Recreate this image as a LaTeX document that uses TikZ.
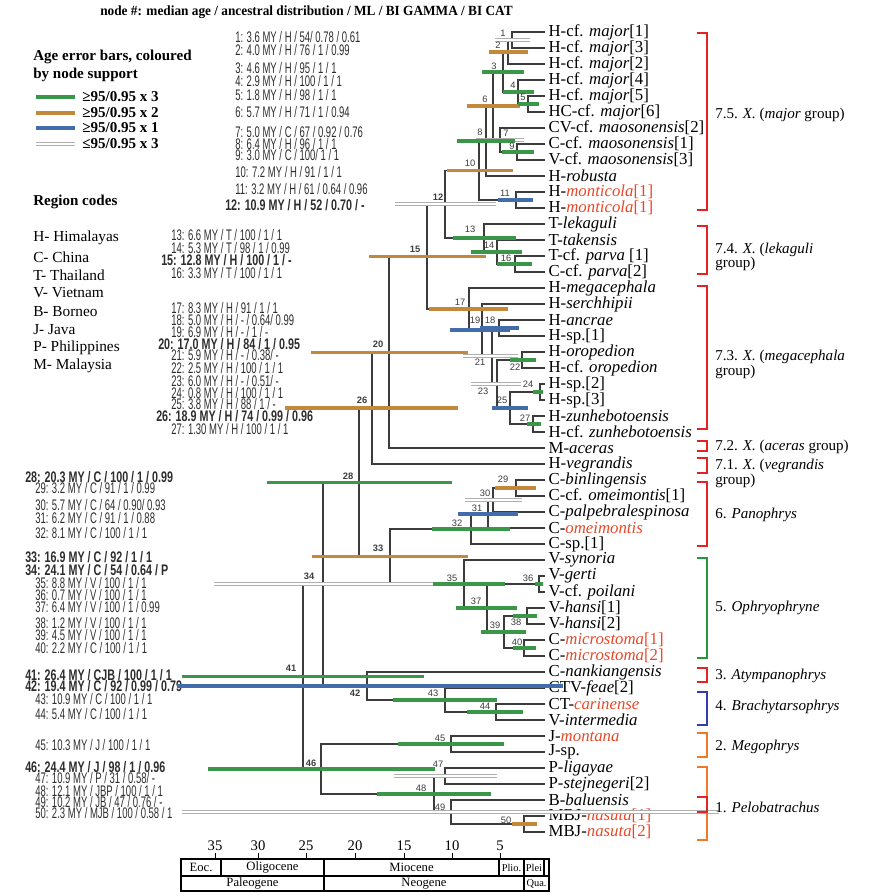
\documentclass[tikz,border=0pt]{standalone}
\usepackage{fontspec}
\setmainfont{Liberation Serif}
\newfontfamily\statfont[FakeStretch=0.62]{Liberation Sans}
\newfontfamily\statbfont[FakeStretch=0.70]{Liberation Sans}
\newfontfamily\hdrfont[FakeStretch=0.95]{Liberation Serif}
\newfontfamily\lblfont{Liberation Sans}
\definecolor{gbar}{RGB}{58,150,72}
\definecolor{obar}{RGB}{196,136,58}
\definecolor{bbar}{RGB}{66,108,170}
\definecolor{wbar}{RGB}{175,175,175}
\definecolor{redtx}{RGB}{232,72,40}
\definecolor{bred}{RGB}{228,36,36}
\definecolor{bgreen}{RGB}{40,150,60}
\definecolor{bblue}{RGB}{50,60,175}
\definecolor{borange}{RGB}{240,120,40}
\definecolor{treec}{RGB}{60,60,60}
\definecolor{stattx}{RGB}{45,45,45}
\begin{document}
\begin{tikzpicture}[x=0.75pt,y=-0.75pt,
 branch/.style={draw=treec, line width=0.9pt},
 gb/.style={draw=gbar, line width=2.6pt},
 ob/.style={draw=obar, line width=2.6pt},
 bb/.style={draw=bbar, line width=2.6pt},
 wb/.style={draw=wbar, line width=0.6pt, double=white, double distance=1.6pt},
 tiplbl/.style={anchor=west, inner sep=0pt, font=\fontsize{12.6}{14}\selectfont},
 stat/.style={anchor=west, inner sep=0pt, text=stattx, font=\statfont\fontsize{11.5}{12}\selectfont},
 statb/.style={stat, font=\statbfont\bfseries\fontsize{11.5}{12}\selectfont},
 nlbl/.style={inner sep=0pt, text=treec, font=\lblfont\fontsize{7}{8}\selectfont},
 nlblb/.style={nlbl, font=\lblfont\bfseries\fontsize{7}{8}\selectfont},
 brk/.style={line width=2pt},
 grplbl/.style={anchor=west, inner sep=0pt, font=\fontsize{11.3}{13}\selectfont},
 legtxt/.style={anchor=west, inner sep=0pt, font=\bfseries\fontsize{11.3}{13}\selectfont},
 regtxt/.style={anchor=west, inner sep=0pt, font=\fontsize{11.5}{13}\selectfont},
 axnum/.style={inner sep=0pt, font=\fontsize{11}{12}\selectfont},
 eratxt/.style={inner sep=0pt, font=\fontsize{9.5}{11}\selectfont},
 erasm/.style={inner sep=0pt, font=\fontsize{7.8}{9}\selectfont}
]
\useasboundingbox (0,0) rectangle (870,896);

% ---------- header ----------
\node[anchor=west, inner sep=0pt, font=\hdrfont\bfseries\fontsize{10.5}{12}\selectfont] (hdr) at (100,12)
 {node \#: median age / ancestral distribution / ML / BI GAMMA / BI CAT};

% ---------- legend ----------
\node[legtxt] (lg1) at (33,57) {Age error bars, coloured};
\node[legtxt] (lg2) at (33,75) {by node support};
\draw[gb] (36,97) -- (75,97);
\draw[ob] (36,113) -- (75,113);
\draw[bb] (36,128) -- (75,128);
\draw[wb] (36,144) -- (75,144);
\node[legtxt] (lga) at (82,97) {≥95/0.95 x 3};
\node[legtxt] (lgb) at (82,113) {≥95/0.95 x 2};
\node[legtxt] (lgc) at (82,128) {≥95/0.95 x 1};
\node[legtxt] (lgd) at (82,144) {≤95/0.95 x 3};

\node[legtxt] (rc) at (33,202) {Region codes};
\node[regtxt] (r1) at (33,238) {H- Himalayas};
\node[regtxt] (r2) at (33,257) {C- China};
\node[regtxt] (r3) at (33,275) {T- Thailand};
\node[regtxt] (r4) at (33,293) {V- Vietnam};
\node[regtxt] (r5) at (33,312) {B- Borneo};
\node[regtxt] (r6) at (33,330) {J- Java};
\node[regtxt] (r7) at (33,348) {P- Philippines};
\node[regtxt] (r8) at (33,366) {M- Malaysia};

% ---------- node statistics ----------
\node[stat] (s1) at (235,37) {1: 3.6 MY / H / 54/ 0.78 / 0.61};
\node[stat] (s2) at (235,50) {2: 4.0 MY / H / 76 / 1 / 0.99};
\node[stat] (s3) at (235,68) {3: 4.6 MY / H / 95 / 1 / 1};
\node[stat] (s4) at (235,81) {4: 2.9 MY / H / 100 / 1 / 1};
\node[stat] (s5) at (235,95) {5: 1.8 MY / H / 98 / 1 / 1};
\node[stat] (s6) at (235,112) {6: 5.7 MY / H / 71 / 1 / 0.94};
\node[stat] (s7) at (235,132) {7: 5.0 MY / C / 67 / 0.92 / 0.76};
\node[stat] (s8) at (235,144) {8: 6.4 MY / H / 96 / 1 / 1};
\node[stat] (s9) at (235,155) {9: 3.0 MY / C / 100/ 1 / 1};
\node[stat] (s10) at (235,172) {10: 7.2 MY / H / 91 / 1 / 1};
\node[stat] (s11) at (235,189) {11: 3.2 MY / H / 61 / 0.64 / 0.96};
\node[statb] (s12) at (225,205) {12: 10.9 MY / H / 52 / 0.70 / -};
\node[stat] (s13) at (171,235) {13: 6.6 MY / T / 100 / 1 / 1};
\node[stat] (s14) at (171,248) {14: 5.3 MY / T / 98 / 1 / 0.99};
\node[statb] (s15) at (161,260) {15: 12.8 MY / H / 100 / 1 / -};
\node[stat] (s16) at (171,273) {16: 3.3 MY / T / 100 / 1 / 1};
\node[stat] (s17) at (171,308) {17: 8.3 MY / H / 91 / 1 / 1};
\node[stat] (s18) at (171,320) {18: 5.0 MY / H / - / 0.64/ 0.99};
\node[stat] (s19) at (171,332) {19: 6.9 MY / H / - / 1 / -};
\node[statb] (s20) at (158,344) {20: 17.0 MY / H / 84 / 1 / 0.95};
\node[stat] (s21) at (171,355) {21: 5.9 MY / H / - / 0.38/ -};
\node[stat] (s22) at (171,368) {22: 2.5 MY / H / 100 / 1 / 1};
\node[stat] (s23) at (171,381) {23: 6.0 MY / H / - / 0.51/ -};
\node[stat] (s24) at (171,393) {24: 0.8 MY / H / 100 / 1 / 1};
\node[stat] (s25) at (171,404) {25: 3.8 MY / H / 88 / 1 / -};
\node[statb] (s26) at (156,416) {26: 18.9 MY / H / 74 / 0.99 / 0.96};
\node[stat] (s27) at (171,429) {27: 1.30 MY / H / 100 / 1 / 1};
\node[statb] (s28) at (25,477) {28: 20.3 MY / C / 100 / 1 / 0.99};
\node[stat] (s29) at (35,488) {29: 3.2 MY / C / 91 / 1 / 0.99};
\node[stat] (s30) at (35,505) {30: 5.7 MY / C / 64 / 0.90/ 0.93};
\node[stat] (s31) at (35,518) {31: 6.2 MY / C / 91 / 1 / 0.88};
\node[stat] (s32) at (35,533) {32: 8.1 MY / C / 100 / 1 / 1};
\node[statb] (s33) at (25,557) {33: 16.9 MY / C / 92 / 1 / 1};
\node[statb] (s34) at (25,570) {34: 24.1 MY / C / 54 / 0.64 / P};
\node[stat] (s35) at (35,583) {35: 8.8 MY / V / 100 / 1 / 1};
\node[stat] (s36) at (35,595) {36: 0.7 MY / V / 100 / 1 / 1};
\node[stat] (s37) at (35,607) {37: 6.4 MY / V / 100 / 1 / 0.99};
\node[stat] (s38) at (35,623) {38: 1.2 MY / V / 100 / 1 / 1};
\node[stat] (s39) at (35,635) {39: 4.5 MY / V / 100 / 1 / 1};
\node[stat] (s40) at (35,648) {40: 2.2 MY / C / 100 / 1 / 1};
\node[statb] (s41) at (25,675) {41: 26.4 MY / CJB / 100 / 1 / 1};
\node[statb] (s42) at (25,686) {42: 19.4 MY / C / 92 / 0.99 / 0.79};
\node[stat] (s43) at (35,699) {43: 10.9 MY / C / 100 / 1 / 1};
\node[stat] (s44) at (35,714) {44: 5.4 MY / C / 100 / 1 / 1};
\node[stat] (s45) at (35,745) {45: 10.3 MY / J / 100 / 1 / 1};
\node[statb] (s46) at (25,767) {46: 24.4 MY / J / 98 / 1 / 0.96};
\node[stat] (s47) at (35,778) {47: 10.9 MY / P / 31 / 0.58/ -};
\node[stat] (s48) at (35,791) {48: 12.1 MY / JBP / 100 / 1 / 1};
\node[stat] (s49) at (35,802) {49: 10.2 MY / JB / 47 / 0.76 / -};
\node[stat] (s50) at (35,813) {50: 2.3 MY / MJB / 100 / 0.58 / 1};

% ---------- tree coordinates ----------
\foreach \i in {1,...,51} { \coordinate (t\i) at (545,{32+16*(\i-1)}); }
\coordinate (n1) at (512,40);   \coordinate (n2) at (508,52);
\coordinate (n3) at (503,72);   \coordinate (n4) at (518,92);
\coordinate (n5) at (528,104);  \coordinate (n6) at (493,106);
\coordinate (n7) at (500,140);  \coordinate (n8) at (486,141);
\coordinate (n9) at (517,152);  \coordinate (n10) at (479,170.5);
\coordinate (n11) at (516,200); \coordinate (n12) at (445,204.25);
\coordinate (n13) at (484,238); \coordinate (n14) at (497,252);
\coordinate (n15) at (427,256.5); \coordinate (n16) at (515,264);
\coordinate (n17) at (469,309); \coordinate (n18) at (499,328);
\coordinate (n19) at (482,330); \coordinate (n20) at (389,352.25);
\coordinate (n21) at (492,356); \coordinate (n22) at (522,360);
\coordinate (n23) at (497,384); \coordinate (n24) at (540,392);
\coordinate (n25) at (510,408); \coordinate (n26) at (372,408);
\coordinate (n27) at (533,424); \coordinate (n28) at (359,482.25);
\coordinate (n29) at (516,488); \coordinate (n30) at (493,500);
\coordinate (n31) at (488,514); \coordinate (n32) at (471,529);
\coordinate (n33) at (390,556.5); \coordinate (n34) at (323,584);
\coordinate (n35) at (464,584); \coordinate (n36) at (539,584);
\coordinate (n37) at (487,608); \coordinate (n38) at (527,616);
\coordinate (n39) at (504,632); \coordinate (n40) at (524,648);
\coordinate (n41) at (303,676.5); \coordinate (n42) at (367,686);
\coordinate (n43) at (445,700); \coordinate (n44) at (496,712);
\coordinate (n45) at (451,744); \coordinate (n46) at (321,769);
\coordinate (n47) at (445,776); \coordinate (n48) at (434,794);
\coordinate (n49) at (451,812); \coordinate (n50) at (524,824);

% ---------- branches ----------
\foreach \p/\a/\b in {n1/t1/t2, n2/n1/t3, n3/n2/n4, n4/t4/n5, n5/t5/t6, n6/n3/n7,
  n7/t7/n9, n8/n6/t10, n9/t8/t9, n10/n8/n11, n11/t11/t12, n12/n10/n13, n13/t13/n14,
  n14/t14/n16, n15/n12/n17, n16/t15/t16, n17/t17/n19, n18/t19/t20, n19/t18/n21,
  n20/n15/t27, n21/n18/n23, n22/t21/t22, n23/n22/n25, n24/t23/t24, n25/n24/n27,
  n26/n20/t28, n27/t25/t26, n28/n26/n33, n29/t29/t30, n30/n29/t31, n31/n30/t32,
  n32/n31/t33, n33/n32/n35, n34/n28/n42, n35/t34/n37, n36/t35/t36, n37/n36/n39,
  n38/t37/t38, n39/n38/n40, n40/t39/t40, n41/n34/n46, n42/t41/n43, n43/t42/n44,
  n44/t43/t44, n45/t45/t46, n46/n45/n48, n47/t47/t48, n48/n47/n49, n49/t49/n50,
  n50/t50/t51}
  { \draw[branch] (\a) -- (\a -| \p) -- (\b -| \p) -- (\b); }

% ---------- tip labels ----------
\node[tiplbl] (L1) at ([xshift=2.5pt]t1) {H-cf. \textit{major}[1]};
\node[tiplbl] (L2) at ([xshift=2.5pt]t2) {H-cf. \textit{major}[3]};
\node[tiplbl] (L3) at ([xshift=2.5pt]t3) {H-cf. \textit{major}[2]};
\node[tiplbl] (L4) at ([xshift=2.5pt]t4) {H-cf. \textit{major}[4]};
\node[tiplbl] (L5) at ([xshift=2.5pt]t5) {H-cf. \textit{major}[5]};
\node[tiplbl] (L6) at ([xshift=2.5pt]t6) {HC-cf. \textit{major}[6]};
\node[tiplbl] (L7) at ([xshift=2.5pt]t7) {CV-cf. \textit{maosonensis}[2]};
\node[tiplbl] (L8) at ([xshift=2.5pt]t8) {C-cf. \textit{maosonensis}[1]};
\node[tiplbl] (L9) at ([xshift=2.5pt]t9) {V-cf. \textit{maosonensis}[3]};
\node[tiplbl] (L10) at ([xshift=2.5pt]t10) {H-\textit{robusta}};
\node[tiplbl] (L11) at ([xshift=2.5pt]t11) {H-\textcolor{redtx}{\textit{monticola}[1]}};
\node[tiplbl] (L12) at ([xshift=2.5pt]t12) {H-\textcolor{redtx}{\textit{monticola}[1]}};
\node[tiplbl] (L13) at ([xshift=2.5pt]t13) {T-\textit{lekaguli}};
\node[tiplbl] (L14) at ([xshift=2.5pt]t14) {T-\textit{takensis}};
\node[tiplbl] (L15) at ([xshift=2.5pt]t15) {T-cf. \textit{parva} [1]};
\node[tiplbl] (L16) at ([xshift=2.5pt]t16) {C-cf. \textit{parva}[2]};
\node[tiplbl] (L17) at ([xshift=2.5pt]t17) {H-\textit{megacephala}};
\node[tiplbl] (L18) at ([xshift=2.5pt]t18) {H-\textit{serchhipii}};
\node[tiplbl] (L19) at ([xshift=2.5pt]t19) {H-\textit{ancrae}};
\node[tiplbl] (L20) at ([xshift=2.5pt]t20) {H-sp.[1]};
\node[tiplbl] (L21) at ([xshift=2.5pt]t21) {H-\textit{oropedion}};
\node[tiplbl] (L22) at ([xshift=2.5pt]t22) {H-cf. \textit{oropedion}};
\node[tiplbl] (L23) at ([xshift=2.5pt]t23) {H-sp.[2]};
\node[tiplbl] (L24) at ([xshift=2.5pt]t24) {H-sp.[3]};
\node[tiplbl] (L25) at ([xshift=2.5pt]t25) {H-\textit{zunhebotoensis}};
\node[tiplbl] (L26) at ([xshift=2.5pt]t26) {H-cf. \textit{zunhebotoensis}};
\node[tiplbl] (L27) at ([xshift=2.5pt]t27) {M-\textit{aceras}};
\node[tiplbl] (L28) at ([xshift=2.5pt]t28) {H-\textit{vegrandis}};
\node[tiplbl] (L29) at ([xshift=2.5pt]t29) {C-\textit{binlingensis}};
\node[tiplbl] (L30) at ([xshift=2.5pt]t30) {C-cf. \textit{omeimontis}[1]};
\node[tiplbl] (L31) at ([xshift=2.5pt]t31) {C-\textit{palpebralespinosa}};
\node[tiplbl] (L32) at ([xshift=2.5pt]t32) {C-\textcolor{redtx}{\textit{omeimontis}}};
\node[tiplbl] (L33) at ([xshift=2.5pt]t33) {C-sp.[1]};
\node[tiplbl] (L34) at ([xshift=2.5pt]t34) {V-\textit{synoria}};
\node[tiplbl] (L35) at ([xshift=2.5pt]t35) {V-\textit{gerti}};
\node[tiplbl] (L36) at ([xshift=2.5pt]t36) {V-cf. \textit{poilani}};
\node[tiplbl] (L37) at ([xshift=2.5pt]t37) {V-\textit{hansi}[1]};
\node[tiplbl] (L38) at ([xshift=2.5pt]t38) {V-\textit{hansi}[2]};
\node[tiplbl] (L39) at ([xshift=2.5pt]t39) {C-\textcolor{redtx}{\textit{microstoma}[1]}};
\node[tiplbl] (L40) at ([xshift=2.5pt]t40) {C-\textcolor{redtx}{\textit{microstoma}[2]}};
\node[tiplbl] (L41) at ([xshift=2.5pt]t41) {C-\textit{nankiangensis}};
\node[tiplbl] (L42) at ([xshift=2.5pt]t42) {CTV-\textit{feae}[2]};
\node[tiplbl] (L43) at ([xshift=2.5pt]t43) {CT-\textcolor{redtx}{\textit{carinense}}};
\node[tiplbl] (L44) at ([xshift=2.5pt]t44) {V-\textit{intermedia}};
\node[tiplbl] (L45) at ([xshift=2.5pt]t45) {J-\textcolor{redtx}{\textit{montana}}};
\node[tiplbl] (L46) at ([xshift=2.5pt]t46) {J-sp.};
\node[tiplbl] (L47) at ([xshift=2.5pt]t47) {P-\textit{ligayae}};
\node[tiplbl] (L48) at ([xshift=2.5pt]t48) {P-\textit{stejnegeri}[2]};
\node[tiplbl] (L49) at ([xshift=2.5pt]t49) {B-\textit{baluensis}};
\node[tiplbl] (L50) at ([xshift=2.5pt]t50) {MBJ-\textcolor{redtx}{\textit{nasuta}[1]}};
\node[tiplbl] (L51) at ([xshift=2.5pt]t51) {MBJ-\textcolor{redtx}{\textit{nasuta}[2]}};

% ---------- age error bars ----------
\foreach \n/\xa/\xb in {n1/495/530, n7/476/524, n12/395/496, n21/463/518, n23/471/521,
  n30/465/522, n34/214/433, n47/394/497, n49/182/719}
  { \draw[wb] (\xa,0 |- \n) -- (\xb,0 |- \n); }
\foreach \n/\xa/\xb in {n2/489/528, n6/467/520, n10/447/513, n15/369/486, n17/429/508,
  n20/311/468, n26/285/458, n29/495/536, n33/312/468, n50/512/537}
  { \draw[ob] (\xa,0 |- \n) -- (\xb,0 |- \n); }
\foreach \n/\xa/\xb in {n11/498/533, n19/450/510, n18/480/519, n25/492/528, n31/458/518, n42/177/563}
  { \draw[bb] (\xa,0 |- \n) -- (\xb,0 |- \n); }
\foreach \n/\xa/\xb in {n3/482/524, n4/503/534, n5/518/539, n8/457/515, n9/502/534,
  n13/453/516, n14/471/522, n16/497/532, n22/510/536, n24/533/543, n27/527/541,
  n28/267/452, n32/432/510, n35/433/505, n36/535/543, n37/456/517, n38/513/537,
  n39/481/526, n40/513/536, n41/182/424, n43/393/497, n44/467/523, n45/398/504,
  n46/208/435, n48/377/491}
  { \draw[gb] (\xa,0 |- \n) -- (\xb,0 |- \n); }

% ---------- node numbers ----------
\foreach \n/\dx/\dy in {1/-9/-7, 2/-10/-7, 3/-9/-6, 4/-5/-7, 5/-5/-7, 6/-8/-7, 7/6/-7,
  8/-6/-9, 9/-5/-6, 10/-9/-7, 11/-11/-7, 13/-14/-9, 14/-8/-7, 16/-9/-6, 17/-9/-7,
  18/-9/-8, 19/-7/-10, 21/-12/6, 22/-7/7, 23/-14/7, 24/-12/-8, 25/-8/-8, 27/-8/-6,
  29/-13/-9, 30/-8/-7, 31/-11/-6, 32/-14/-6, 35/-12/-6, 36/-11/-6, 37/-11/-7,
  38/-11/6, 39/-9/-7, 40/-7/-6, 43/-12/-7, 44/-11/-6, 45/-11/-6, 47/-7/-12,
  48/-13/-6, 49/-11/-5, 50/-18/-4}
  { \node[nlbl] (m\n) at ([shift={(\dx,\dy)}]n\n) {\n}; }
\foreach \n/\dx/\dy in {12/-7/-7, 15/-12/-7, 20/-11/-8, 26/-10/-8, 28/-11/-6,
  33/-12/-8, 34/-14/-8, 41/-12/-8, 42/-12/7, 46/-10/-6}
  { \node[nlblb] (m\n) at ([shift={(\dx,\dy)}]n\n) {\n}; }

% ---------- group brackets ----------
\foreach \ya/\yb/\c in {33/210/bred, 226/274/bred, 286/429/bred, 441/451/bred,
  458/473/bred, 482/546/bred, 558/658/bgreen, 668/682/bred, 692/725/bblue,
  733/757/borange, 767/840/borange, 797/812/bred}
  { \draw[brk, draw=\c] (697,\ya) -- (707,\ya) -- (707,\yb) -- (697,\yb); }
\node[grplbl] (g1) at (715,115) {7.5. \textit{X.} (\textit{major} group)};
\node[grplbl] (g2) at (715,250) {7.4. \textit{X.} (\textit{lekaguli}};
\node[grplbl] (g2b) at (715,264) {group)};
\node[grplbl] (g3) at (715,357) {7.3. \textit{X.} (\textit{megacephala}};
\node[grplbl] (g3b) at (715,372) {group)};
\node[grplbl] (g4) at (715,447) {7.2. \textit{X.} (\textit{aceras} group)};
\node[grplbl] (g5) at (715,466) {7.1. \textit{X.} (\textit{vegrandis}};
\node[grplbl] (g5b) at (715,481) {group)};
\node[grplbl] (g6) at (715,515) {6. \textit{Panophrys}};
\node[grplbl] (g7) at (715,608) {5. \textit{Ophryophryne}};
\node[grplbl] (g8) at (715,676) {3. \textit{Atympanophrys}};
\node[grplbl] (g9) at (715,707) {4. \textit{Brachytarsophrys}};
\node[grplbl] (g10) at (715,747) {2. \textit{Megophrys}};
\node[grplbl] (g11) at (715,807) {1. \textit{Pelobatrachus}};

% ---------- time axis ----------
\foreach \x/\t in {215/35, 258/30, 306/25, 355/20, 404/15, 452/10, 500/5}
  { \node[axnum] (ax\t) at (\x,846) {\t}; \draw[line width=0.7pt] (\x,853) -- (\x,859); }
\draw[line width=0.8pt] (181,859) rectangle (549,891);
\draw[line width=0.8pt] (181,876) -- (549,876);
\foreach \x in {221,324,499,524,544} { \draw[line width=0.8pt] (\x,859) -- (\x,876); }
\foreach \x in {324,524} { \draw[line width=0.8pt] (\x,876) -- (\x,891); }
\node[eratxt] (e1) at (201,867.5) {Eoc.};
\node[eratxt] (e2) at (272.5,867.5) {Oligocene};
\node[eratxt] (e3) at (411.5,867.5) {Miocene};
\node[erasm] (e4) at (511.5,867.5) {Plio.};
\node[erasm] (e5) at (534,867.5) {Plei};
\node[eratxt] (e6) at (252.5,883.5) {Paleogene};
\node[eratxt] (e7) at (424,883.5) {Neogene};
\node[erasm] (e8) at (536.5,883.5) {Qua.};
\end{tikzpicture}
\end{document}
